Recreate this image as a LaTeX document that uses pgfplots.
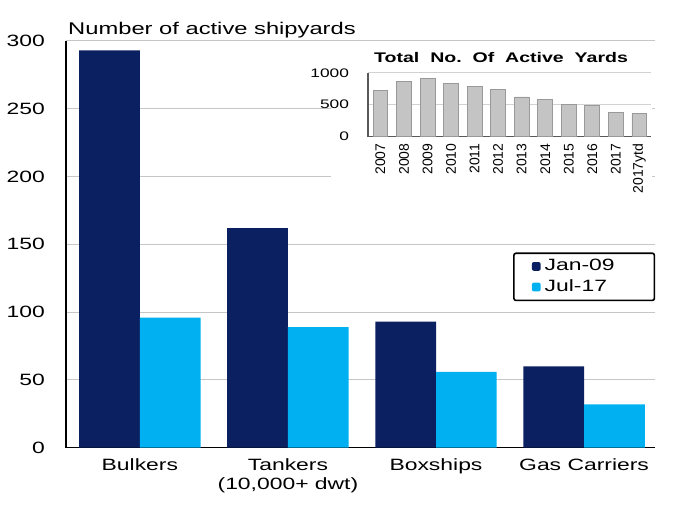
\documentclass[border=0pt]{standalone}
\usepackage{fontspec}
\setmainfont{Liberation Sans}[FakeStretch=1.4]
\newfontfamily\yearfont{Liberation Sans}
\usepackage{pgfplots}
\pgfplotsset{compat=1.18}
\definecolor{navy}{HTML}{0B2060}
\definecolor{sky}{HTML}{00B0F0}
\definecolor{barGray}{HTML}{C4C4C4}
\begin{document}
\begin{tikzpicture}
\begin{axis}[
 name=main,
 scale only axis, width=295.5pt, height=204pt,
 xmin=-0.5, xmax=3.48, ymin=0, ymax=300,
 ybar=0pt, bar width=0.41,
 xtick={0,1,2,3},
 xticklabels={Bulkers, {Tankers\\(10,000+ dwt)}, Boxships, Gas Carriers},
 xticklabel style={align=center, font=\fontsize{8.2}{9.5}\selectfont, yshift=-2pt},
 ytick={0,50,...,300},
 yticklabel style={font=\fontsize{8.2}{9.5}\selectfont, xshift=-7pt},
 /pgf/number format/assume math mode=true,
 axis x line*=bottom, axis y line*=left,
 axis line style={line width=0.8pt, -},
 major tick length=0pt,
 ymajorgrids, grid style={gray!45, line width=0.5pt},
 clip=false,
 legend style={at={(rel axis cs:1,0.48)}, anchor=north east, draw=black, line width=0.8pt, font=\fontsize{8.2}{9.5}\selectfont, rounded corners=1pt, inner xsep=9pt, inner ysep=1pt, row sep=-1pt},
 legend cell align=left,
 legend image code/.code={\fill[#1, draw=none] (0pt,-2.2pt) rectangle (4.4pt,2.2pt);},
]
\addplot[fill=navy, draw=none] coordinates {(0,293) (1,162) (2,93) (3,60)};
\addlegendentry{\makebox[44pt][l]{Jan-09}}
\addplot[fill=sky, draw=none] coordinates {(0,96) (1,89) (2,56) (3,32)};
\addlegendentry{\makebox[44pt][l]{Jul-17}}
\fill[white] (rel axis cs:0.45,0.598) rectangle (rel axis cs:0.995,0.99);
\node[anchor=base west, font=\fontsize{8.5}{10}\selectfont, inner sep=0pt, xshift=1pt, yshift=3pt] at (rel axis cs:0,1) {Number of active shipyards};
\path (rel axis cs:0,0) ++(-32pt,-38pt) rectangle ++(350pt,262.5pt);
\end{axis}
\begin{axis}[
 at={(151.5pt,156pt)}, anchor=south west,
 scale only axis, width=142pt, height=32pt,
 xmin=-0.53, xmax=11.5, ymin=0, ymax=1000,
 ybar, bar width=0.63,
 xtick={0,...,11},
 xticklabels={2007,2008,2009,2010,2011,2012,2013,2014,2015,2016,2017,2017ytd},
 xticklabel style={rotate=90, anchor=east, font=\yearfont\fontsize{7}{7.5}\selectfont},
 ytick={0,500,1000},
 yticklabel style={font=\fontsize{6.2}{7}\selectfont, xshift=-6pt},
 /pgf/number format/1000 sep={},
 /pgf/number format/assume math mode=true,
 axis x line*=bottom, axis y line*=left,
 axis line style={gray!70!black, line width=0.6pt, -},
 major tick length=0pt,
 ymajorgrids, grid style={gray!35, line width=0.5pt},
 clip=false,
]
\addplot[fill=barGray, draw=gray!80] coordinates {(0,717)(1,859)(2,909)(3,833)(4,788)(5,737)(6,621)(7,576)(8,500)(9,485)(10,384)(11,359)};
\node[font=\bfseries\fontsize{7}{8}\selectfont, anchor=base, yshift=5pt] at (rel axis cs:0.47,1) {Total\ \ No.\ \ Of\ \ Active\ \ Yards};
\end{axis}
\end{tikzpicture}
\end{document}
